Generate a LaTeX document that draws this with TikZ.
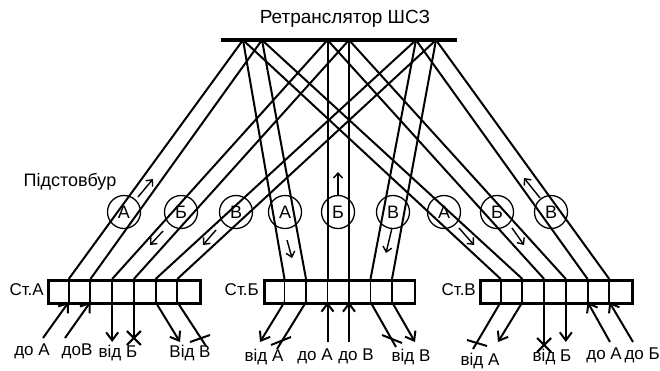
\documentclass[tikz,border=0pt]{standalone}
\usepackage{fontspec}
\setmainfont{Liberation Sans}
\usetikzlibrary{arrows.meta,calc}
\begin{document}
\begin{tikzpicture}[x=1pt,y=-1pt]
\tikzset{
  wire/.style={line width=2pt},
  relay/.style={line width=4pt},
  cellrow/.style={draw, line width=2.8pt, inner sep=0pt, minimum height=23pt, anchor=north west},
  divider/.style={line width=1.9pt},
  ring/.style={circle, draw, line width=1.3pt, minimum size=33pt, inner sep=0pt, font=\fontsize{18}{20}\selectfont},
  flow/.style={line width=1.4pt, -{Straight Barb[length=5pt,width=9pt]}},
  feed/.style={line width=2pt, -{Straight Barb[length=8pt,width=12pt]}},
  txt/.style={font=\fontsize{17}{20}\selectfont, inner sep=0pt},
  cut/.style={line width=2pt},
}
\useasboundingbox (0,0) rectangle (660,370);

% satellite relay
\node[txt, font=\fontsize{19}{22}\selectfont] (title) at (345,19) {Ретранслятор ШСЗ};
\coordinate (barL) at (221,40);
\coordinate (barR) at (457,40);
\draw[relay] (barL) -- (barR);
\coordinate (t1) at (243,40);
\coordinate (t2) at (262,40);
\coordinate (t3) at (327.5,40);
\coordinate (t4) at (349,40);
\coordinate (t5) at (416,40);
\coordinate (t6) at (436,40);

% earth stations
\node[cellrow, minimum width=152pt] (sA) at (47,279) {};
\node[cellrow, minimum width=150.5pt] (sB) at (263,279) {};
\node[cellrow, minimum width=152pt] (sC) at (479,279) {};
\foreach \i in {1,...,6} {
  \coordinate (At\i) at ({47+\i*152/7},279);
  \coordinate (Ab\i) at ({47+\i*152/7},302);
  \coordinate (Bt\i) at ({263+\i*21.5},279);
  \coordinate (Bb\i) at ({263+\i*21.5},302);
  \coordinate (Ct\i) at ({479+\i*152/7},279);
  \coordinate (Cb\i) at ({479+\i*152/7},302);
  \draw[divider] (At\i) -- (Ab\i);
  \draw[divider] (Bt\i) -- (Bb\i);
  \draw[divider] (Ct\i) -- (Cb\i);
}
\node[txt, anchor=east] (lA) at (44,290) {Ст.А};
\node[txt, anchor=east] (lB) at (259,290) {Ст.Б};
\node[txt, anchor=east] (lC) at (476,290) {Ст.В};

% radio links
\foreach \i in {1,...,6} {
  \draw[wire] (At\i) -- (t\i);
  \draw[wire] (Bt\i) -- (t\i);
  \draw[wire] (Ct\i) -- (t\i);
}

% trunk markers
\node[txt, font=\fontsize{18}{20}\selectfont] (trunk) at (70,182) {Підстовбур};
\node[ring] (rA1) at (124,212) {А};
\node[ring] (rA2) at (181,212) {Б};
\node[ring] (rA3) at (236,212) {В};
\node[ring] (rB1) at (285,212) {А};
\node[ring] (rB2) at (338,212) {Б};
\node[ring] (rB3) at (393,212) {В};
\node[ring] (rC1) at (444,212) {А};
\node[ring] (rC2) at (497,212) {Б};
\node[ring] (rC3) at (551,212) {В};

% direction of transmission
\draw[flow] (138,197) -- (153,179);
\draw[flow] (163,231) -- (150,245);
\draw[flow] (216,230) -- (203,245);
\draw[flow] (287,240) -- (292,258);
\draw[flow] (338,195) -- (338,172);
\draw[flow] (392,228) -- (386,253);
\draw[flow] (459,228) -- (474,245);
\draw[flow] (512,228) -- (524,245);
\draw[flow] (540,198) -- (524,178);

% station A terminals
\coordinate (a1) at (43,338);
\coordinate (a2) at (65,338);
\coordinate (a3) at ($(Ab3)+(0,40)$);
\coordinate (a4) at ($(Ab4)+(0,36)$);
\coordinate (a5) at (180,342);
\coordinate (a6) at (200,338);
\draw[feed] (a1) -- (Ab1);
\draw[feed] (a2) -- (Ab2);
\draw[feed] (Ab3) -- (a3);
\draw[cut] (Ab4) -- (a4);
\draw[cut] ($(a4)+(-7,-7)$) -- ($(a4)+(7,7)$);
\draw[cut] ($(a4)+(7,-7)$) -- ($(a4)+(-7,7)$);
\draw[feed] (Ab5) -- (a5);
\draw[cut] (Ab6) -- ($(a6)+(6,8)$);
\draw[cut] ($(a6)+(-10,4)$) -- ($(a6)+(10,-3)$);
\node[txt] (ta1) at (32,351) {до А};
\node[txt] (ta2) at (77,351) {доВ};
\node[txt] (ta3) at (118,353) {від Б};
\node[txt] (ta4) at (190,353) {Від В};

% station B terminals
\coordinate (b1) at (260,342);
\coordinate (b2) at (281,341);
\coordinate (b3) at ($(Bb3)+(0,40)$);
\coordinate (b4) at ($(Bb4)+(0,40)$);
\coordinate (b5) at (392,339);
\coordinate (b6) at (415,342);
\draw[feed] (Bb1) -- (b1);
\draw[cut] (Bb2) -- ($(b2)+(-4,8)$);
\draw[cut] ($(b2)+(-10,4)$) -- ($(b2)+(10,-4)$);
\draw[feed] (b3) -- (Bb3);
\draw[feed] (b4) -- (Bb4);
\draw[cut] (Bb5) -- ($(b5)+(4,8)$);
\draw[cut] ($(b5)+(-10,-4)$) -- ($(b5)+(10,4)$);
\draw[feed] (Bb6) -- (b6);
\node[txt] (tb1) at (264,357) {від А};
\node[txt] (tb2) at (315,356) {до А};
\node[txt] (tb3) at (356,356) {до В};
\node[txt] (tb4) at (411,357) {від В};

% station C terminals
\coordinate (c1) at (477,343);
\coordinate (c2) at (498,342);
\coordinate (c3) at ($(Cb3)+(0,43)$);
\coordinate (c4) at ($(Cb4)+(0,40)$);
\coordinate (c5) at (610,342);
\coordinate (c6) at (633,342);
\draw[cut] (Cb1) -- ($(c1)+(-4,6)$);
\draw[cut] ($(c1)+(-10,-3)$) -- ($(c1)+(10,3)$);
\draw[feed] (Cb2) -- (c2);
\draw[cut] (Cb3) -- (c3);
\draw[cut] ($(c3)+(-7,-7)$) -- ($(c3)+(7,7)$);
\draw[cut] ($(c3)+(7,-7)$) -- ($(c3)+(-7,7)$);
\draw[feed] (Cb4) -- (c4);
\draw[feed] (c5) -- (Cb5);
\draw[feed] (c6) -- (Cb6);
\node[txt] (tc1) at (480,361) {від А};
\node[txt] (tc2) at (552,357) {від Б};
\node[txt, anchor=east] (tc3) at (622,355) {до А};
\node[txt, anchor=east] (tc4) at (660,355) {до Б};
\end{tikzpicture}
\end{document}
